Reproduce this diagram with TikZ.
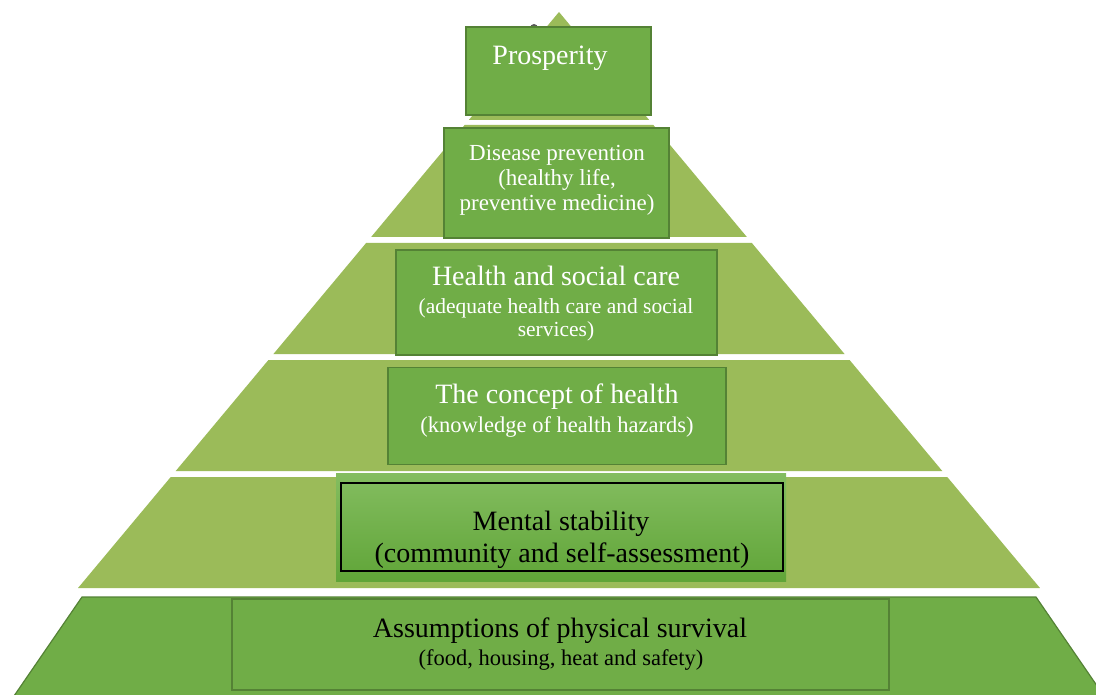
\documentclass[tikz,border=0pt]{standalone}
\usepackage{fontspec}
\setmainfont{Liberation Serif}
\definecolor{layergreen}{HTML}{9BBB59}
\definecolor{boxgreen}{HTML}{70AD47}
\definecolor{boxedge}{HTML}{548235}
\definecolor{shadetop}{HTML}{84BD60}
\definecolor{shadebot}{HTML}{60A538}
\newcommand{\pyrlayer}[2]{%
  \fill[layergreen] ({559-0.835*(#1-12)},#1) -- ({559+0.835*(#1-12)},#1)
    -- ({559+0.835*(#2-12)},#2) -- ({559-0.835*(#2-12)},#2) -- cycle;}
\tikzset{
  stepbox/.style={draw=boxedge, line width=1.6pt, fill=boxgreen, inner sep=0pt},
  wline/.style={text=white, anchor=base, inner sep=0pt},
  bline/.style={text=black, anchor=base, inner sep=0pt},
  big/.style={font=\fontsize{28}{30}\selectfont},
  mid/.style={font=\fontsize{23}{25}\selectfont},
  small/.style={font=\fontsize{21.5}{24}\selectfont},
}
\begin{document}
\begin{tikzpicture}[x=1pt,y=-1pt]
\useasboundingbox (0,0) rectangle (1096,695);
\begin{scope}
\clip (0,0) rectangle (1096,695);
% pyramid layers
\pyrlayer{12}{120}
\pyrlayer{125}{237}
\pyrlayer{243}{354}
\pyrlayer{360}{471}
\pyrlayer{477}{588}
% base layer
\filldraw[fill=boxgreen, draw=boxedge, line width=1.2pt]
  (82,597) -- (1036,597) -- (1104,696) -- (14,696) -- cycle;
\end{scope}
% small grey mark behind the top box
\fill[gray!70!black] (534,28) circle (4);

% boxes
\node[stepbox, minimum width=185, minimum height=88] (b1) at (558.5,71) {};
\node[stepbox, minimum width=225, minimum height=110] (b2) at (556.5,183) {};
\node[stepbox, minimum width=321, minimum height=105] (b3) at (556.5,302.5) {};
\node[stepbox, minimum width=338, minimum height=97] (b4) at (557,416) {};
\node[inner sep=0pt, top color=shadetop, bottom color=shadebot,
      minimum width=450, minimum height=108] (b5) at (561,527) {};
\node[draw=black, line width=1.4pt, inner sep=0pt,
      minimum width=442, minimum height=88] (b5in) at (562,527) {};
\node[stepbox, minimum width=657, minimum height=91] (b6) at (560.5,644.5) {};

% labels
\node[wline, big] (t1) at (550,65) {Prosperity};

\node[wline, mid] (t2a) at (557,161) {Disease prevention};
\node[wline, mid] (t2b) at (557,186) {(healthy life,};
\node[wline, mid] (t2c) at (557,211) {preventive medicine)};

\node[wline, big] (t3a) at (556,286) {Health and social care};
\node[wline, small] (t3b) at (556,313) {(adequate health care and social};
\node[wline, small] (t3c) at (556,337) {services)};

\node[wline, big] (t4a) at (557,403) {The concept of health};
\node[wline, font=\fontsize{22.5}{25}\selectfont] (t4b) at (557,432) {(knowledge of health hazards)};

\node[bline, big] (t5a) at (561,530) {Mental stability};
\node[bline, big] (t5b) at (562,562) {(community and self-assessment)};

\node[bline, big] (t6a) at (560,637) {Assumptions of physical survival};
\node[bline, font=\fontsize{22.5}{25}\selectfont] (t6b) at (561,665) {(food, housing, heat and safety)};
\end{tikzpicture}
\end{document}
